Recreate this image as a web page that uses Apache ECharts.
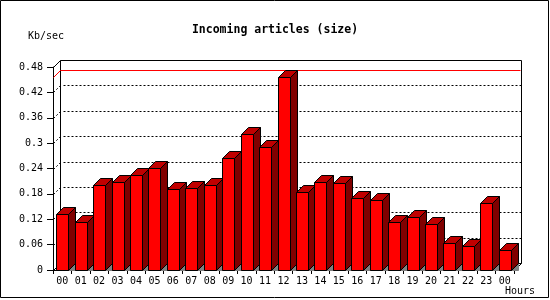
<!DOCTYPE html>
<html>
<head>
<meta charset="utf-8">
<script src="https://cdn.jsdelivr.net/npm/echarts@6/dist/echarts.min.js"></script>
<style>html,body{margin:0;padding:0;background:#fff}#c{width:550px;height:300px}</style>
</head>
<body>
<div id="c"></div>
<script>
const hours = ['00','01','02','03','04','05','06','07','08','09','10','11','12','13','14','15','16','17','18','19','20','21','22','23','00'];
const values = [0.132,0.114,0.200,0.209,0.224,0.241,0.191,0.193,0.200,0.264,0.321,0.292,0.456,0.184,0.207,0.205,0.170,0.165,0.113,0.125,0.109,0.065,0.056,0.158,0.047];
const gridValues = [0.06,0.12,0.18,0.24,0.30,0.36,0.42];
const yMin = 0, yMax = 0.48, yStep = 0.06;
const maxValue = Math.max(...values);

const D = 7;
const FONT = 'DejaVu Sans Mono';
const chart = echarts.init(document.getElementById('c'), null, {renderer:'canvas'});

function px(v){ return Math.round(v) + 0.5; }

const option = {
  animation: false,
  backgroundColor: '#ffffff',
  title: {
    text: 'Incoming articles (size)',
    left: 'center', top: 19,
    textStyle: {fontFamily: FONT, fontSize: 11.5, fontWeight: 'bold', color: '#000'}
  },
  grid: {left: 53, right: 36, top: 67, bottom: 30},
  xAxis: {
    type: 'category', data: hours, boundaryGap: true,
    axisLine: {lineStyle: {color: '#000', width: 1}},
    axisTick: {show: true, interval: 0, length: 4, lineStyle: {color: '#000'}},
    axisLabel: {interval: 0, fontFamily: FONT, fontSize: 10, color: '#000', margin: 6},
    splitLine: {show: false}
  },
  yAxis: {
    type: 'value', min: yMin, max: yMax, interval: yStep,
    axisLine: {show: true, lineStyle: {color: '#000', width: 1}},
    axisTick: {show: true, length: 6, lineStyle: {color: '#000'}},
    axisLabel: {fontFamily: FONT, fontSize: 10, color: '#000', margin: 10},
    splitLine: {show: false}
  },
  graphic: [
    {type: 'rect', shape: {x: 0.5, y: 0.5, width: 548, height: 297}, style: {fill: 'none', stroke: '#000', lineWidth: 1}, z: 100},
    {type: 'text', left: 28, top: 31, style: {text: 'Kb/sec', font: '10px "DejaVu Sans Mono"', fill: '#000'}},
    {type: 'text', left: 505, top: 286, style: {text: 'Hours', font: '10px "DejaVu Sans Mono"', fill: '#000'}}
  ],
  series: [
    {
      type: 'custom', clip: false, silent: true, z: 1,
      data: gridValues.map(v => [0, v]),
      encode: {x: 0, y: 1},
      renderItem: function(params, api){
        const cs = params.coordSys;
        const y = px(api.coord([0, api.value(1)])[1]);
        const x0 = px(cs.x), x1 = px(cs.x + cs.width);
        return {type: 'group', children: [
          {type: 'line', shape: {x1: x0, y1: y, x2: x0 + D, y2: y - D}, style: {stroke: '#000', lineWidth: 1, lineDash: [2, 2]}},
          {type: 'line', shape: {x1: x0 + D + 3, y1: y - D, x2: x1 + D, y2: y - D}, style: {stroke: '#000', lineWidth: 1, lineDash: [2, 2]}}
        ]};
      }
    },
    {
      type: 'custom', clip: false, silent: true, z: 2,
      data: [[0, yMin, yMax]],
      encode: {x: 0, y: 1},
      renderItem: function(params, api){
        const cs = params.coordSys;
        const x0 = px(cs.x), x1 = px(cs.x + cs.width);
        const yb = px(api.coord([0, api.value(1)])[1]);
        const yt = px(api.coord([0, api.value(2)])[1]);
        const s = {stroke: '#000', lineWidth: 1};
        return {type: 'group', children: [
          {type: 'line', shape: {x1: x0, y1: yt, x2: x0 + D, y2: yt - D}, style: s},
          {type: 'line', shape: {x1: x0 + D, y1: yt - D, x2: x1 + D, y2: yt - D}, style: s},
          {type: 'line', shape: {x1: x1 + D, y1: yt - D, x2: x1 + D, y2: yb - D}, style: s},
          {type: 'line', shape: {x1: x0 + D, y1: yt - D, x2: x0 + D, y2: yb - D}, style: s},
          {type: 'line', shape: {x1: x0 + D, y1: yb - D, x2: x1 + D, y2: yb - D}, style: s},
          {type: 'line', shape: {x1: x0, y1: yb, x2: x0 + D, y2: yb - D}, style: s},
          {type: 'line', shape: {x1: x1, y1: yb, x2: x1 + D, y2: yb - D}, style: s}
        ]};
      }
    },
    {
      type: 'custom', clip: false, silent: true, z: 3,
      data: [[0, maxValue]],
      encode: {x: 0, y: 1},
      renderItem: function(params, api){
        const cs = params.coordSys;
        const x0 = px(cs.x), x1 = px(cs.x + cs.width);
        const y = px(api.coord([0, api.value(1)])[1]);
        const s = {stroke: '#ff0000', lineWidth: 1};
        return {type: 'group', children: [
          {type: 'line', shape: {x1: x0, y1: y, x2: x0 + D, y2: y - D}, style: s},
          {type: 'line', shape: {x1: x0 + D, y1: y - D, x2: x1 + D - 1, y2: y - D}, style: s}
        ]};
      }
    },
    {
      type: 'custom', clip: false, silent: true, z: 5,
      data: values.map((v, i) => [i, v]),
      encode: {x: 0, y: 1},
      renderItem: function(params, api){
        const i = api.value(0), v = api.value(1);
        const top = api.coord([i, v]);
        const base = api.coord([i, 0]);
        const xl = px(top[0] - 6), xr = xl + 12;
        const yt = px(top[1]), y0 = px(base[1]);
        const blk = {stroke: '#000', lineWidth: 1};
        return {type: 'group', children: [
          {type: 'polygon', shape: {points: [[xr, y0], [xr + D, y0 - D], [xr + D, y0]]}, style: {fill: '#808080', stroke: '#808080', lineWidth: 1}},
          {type: 'polygon', shape: {points: [[xr, yt], [xr + D, yt - D], [xr + D, y0 - D], [xr, y0]]}, style: Object.assign({fill: '#800000'}, blk)},
          {type: 'polygon', shape: {points: [[xl, yt], [xl + D, yt - D], [xr + D, yt - D], [xr, yt]]}, style: Object.assign({fill: '#c00000'}, blk)},
          {type: 'rect', shape: {x: xl, y: yt, width: xr - xl, height: y0 - yt}, style: Object.assign({fill: '#ff0000'}, blk)}
        ]};
      }
    }
  ]
};
chart.setOption(option);
</script>
</body>
</html>
